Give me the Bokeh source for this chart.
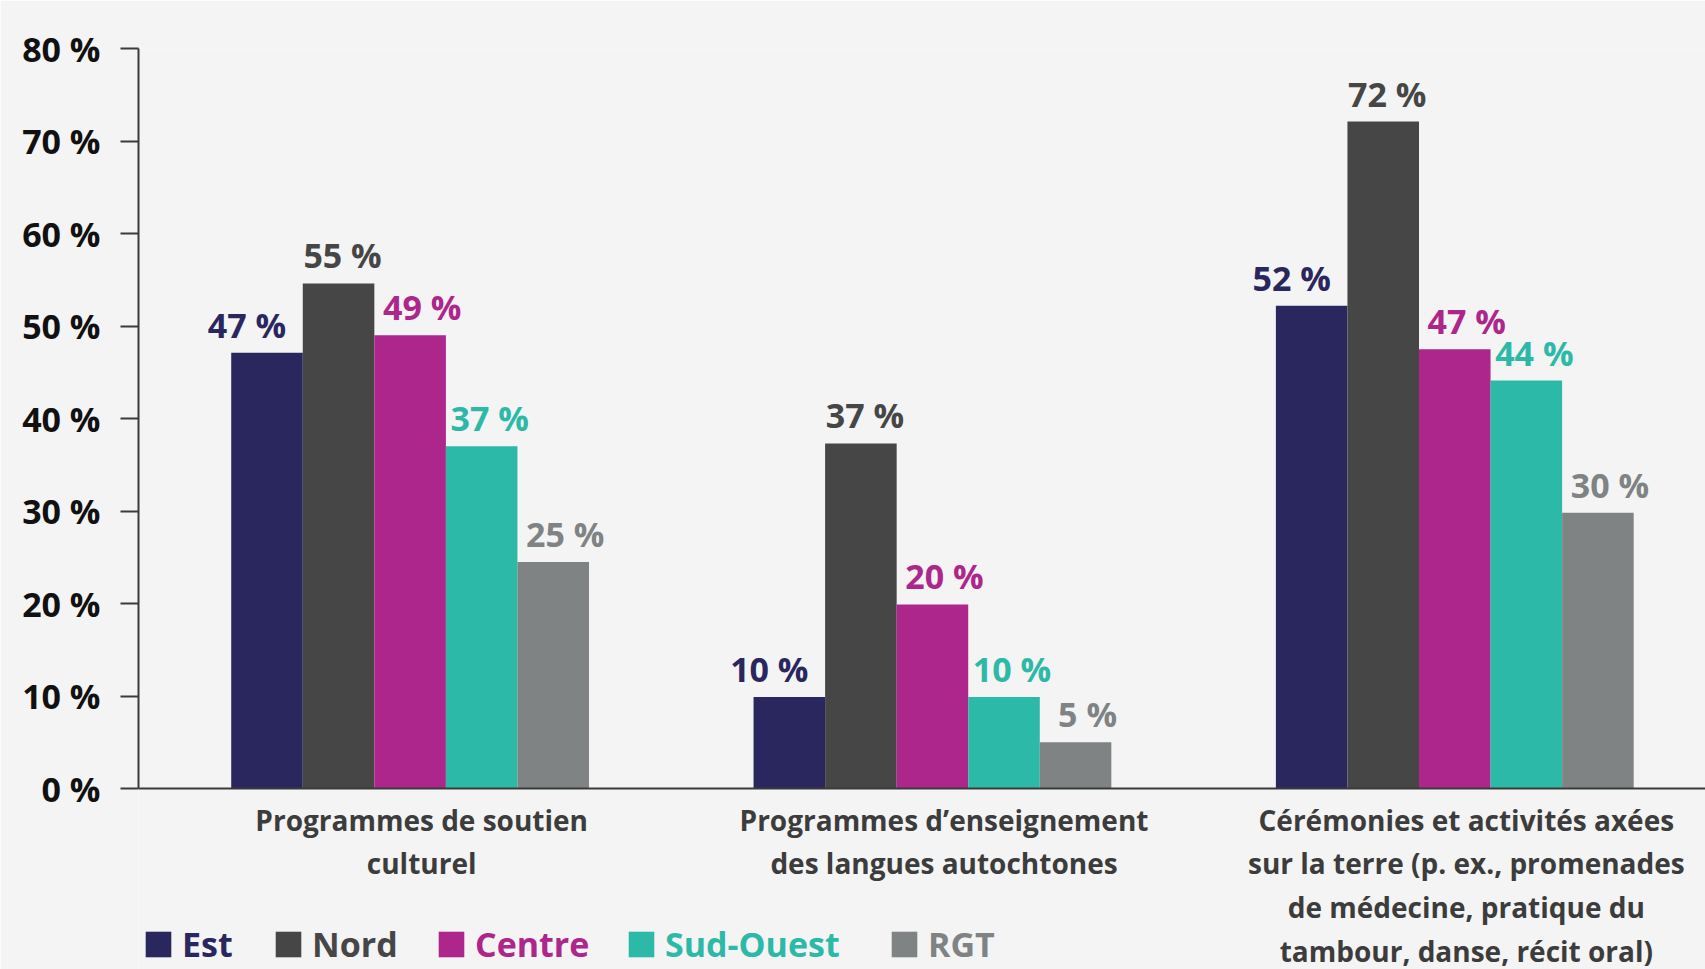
from bokeh.plotting import figure
from bokeh.models import ColumnDataSource, FactorRange, Range1d, Legend, LegendItem, FixedTicker, Span
from bokeh.transform import dodge
from bokeh.core.properties import value
from bokeh.embed import file_html
from bokeh.resources import INLINE

# ---- data ----
categories = [
    "Programmes de soutien\nculturel",
    "Programmes d’enseignement\ndes langues autochtones",
    "Cérémonies et activités axées\nsur la terre (p. ex., promenades\nde médecine, pratique du\ntambour, danse, récit oral)",
]
series = ["Est", "Nord", "Centre", "Sud-Ouest", "RGT"]
est = [47.1, 9.9, 52.2]
nord = [54.6, 37.3, 72.1]
centre = [49.0, 19.9, 47.5]
sud_ouest = [37.0, 9.9, 44.1]
rgt = [24.5, 5.0, 29.8]
labels_est = ["47 %", "10 %", "52 %"]
labels_nord = ["55 %", "37 %", "72 %"]
labels_centre = ["49 %", "20 %", "47 %"]
labels_sud_ouest = ["37 %", "10 %", "44 %"]
labels_rgt = ["25 %", "5 %", "30 %"]
y_ticks = [0, 10, 20, 30, 40, 50, 60, 70, 80]
y_tick_labels = ["0 %", "10 %", "20 %", "30 %", "40 %", "50 %", "60 %", "70 %", "80 %"]

values = [est, nord, centre, sud_ouest, rgt]
labels = [labels_est, labels_nord, labels_centre, labels_sud_ouest, labels_rgt]
colors = ["#2a275f", "#464646", "#ad268b", "#2cb9a7", "#808383"]
SHIFT = 0.02
offsets = [SHIFT - 0.274, SHIFT - 0.137, SHIFT, SHIFT + 0.137, SHIFT + 0.274]
label_dx = [-20, 4, 12, 8, 12]
legend_x = [4, 134, 297, 487, 750]

FONT = "Open Sans"
BG = "#f4f4f4"

# layout (pixels)
W, H = 1705, 969
TOP, ZERO_Y, LEFT = 48, 788, 138
y_max = 80
y_min = -y_max * (H - ZERO_Y) / (ZERO_Y - TOP)

p = figure(
    x_range=FactorRange(*categories), y_range=Range1d(y_min, y_max),
    width=W, height=H, output_backend="svg", toolbar_location=None,
    x_axis_location=None,
    min_border_left=LEFT, min_border_right=0, min_border_top=TOP, min_border_bottom=0,
)
p.background_fill_color = BG
p.border_fill_color = BG
p.outline_line_color = None
p.xgrid.grid_line_color = None
p.ygrid.grid_line_color = None

renderers = []
for i, name in enumerate(series):
    src = ColumnDataSource(dict(cat=categories, val=values[i], lab=labels[i]))
    r = p.vbar(x=dodge("cat", offsets[i], range=p.x_range), top="val", bottom=0, width=0.137,
               source=src, fill_color=colors[i], line_color=None)
    renderers.append(r)
    p.text(x=dodge("cat", offsets[i], range=p.x_range), y="val", text="lab", source=src,
           text_align="center", text_baseline="alphabetic", x_offset=label_dx[i], y_offset=-28,
           text_font=value(FONT), text_font_size="34px", text_font_style="bold",
           text_color=colors[i])

# baseline (x axis line)
p.add_layout(Span(location=0, dimension="width", line_color="#3a3a3a", line_width=2))

# category labels under the baseline
cat_src = ColumnDataSource(dict(cat=categories, y=[0] * len(categories)))
p.text(x="cat", y="y", text="cat", source=cat_src, text_align="center", text_baseline="top",
       x_offset=22, y_offset=12, text_line_height=1.15,
       text_font=value(FONT), text_font_size="28px", text_font_style="bold", text_color="#3c3c3c")

# y axis
ya = p.yaxis[0]
ya.ticker = FixedTicker(ticks=y_ticks)
ya.bounds = (0, 80)
ya.major_label_overrides = {t: l for t, l in zip(y_ticks, y_tick_labels)}
ya.minor_tick_line_color = None
ya.major_tick_in = 0
ya.major_tick_out = 18
ya.major_tick_line_color = "#3a3a3a"
ya.major_tick_line_width = 2
ya.axis_line_color = "#3a3a3a"
ya.axis_line_width = 2
ya.major_label_standoff = 20
ya.major_label_text_font = FONT
ya.major_label_text_font_size = "34px"
ya.major_label_text_font_style = "bold"
ya.major_label_text_color = "#111111"

for i, name in enumerate(series):
    leg = Legend(
        items=[LegendItem(label=name, renderers=[renderers[i]])],
        location=(legend_x[i], 2), orientation="horizontal",
        glyph_width=32, glyph_height=32, label_standoff=8,
        label_text_font=FONT, label_text_font_size="34px", label_text_font_style="bold",
        label_text_color=colors[i], label_height=32,
        padding=0, margin=0, spacing=0,
        border_line_alpha=0, background_fill_alpha=0,
    )
    p.add_layout(leg, "center")

open("out.html", "w").write(file_html(p, INLINE))
